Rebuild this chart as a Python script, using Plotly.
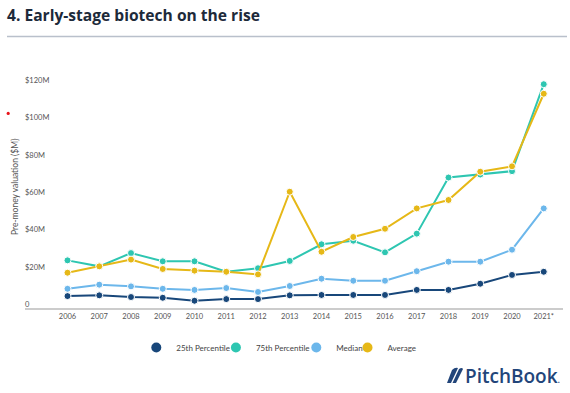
import plotly.graph_objects as go

# ---------------- data ----------------
years = ["2006", "2007", "2008", "2009", "2010", "2011", "2012", "2013",
         "2014", "2015", "2016", "2017", "2018", "2019", "2020", "2021*"]
p25 = [4.5, 4.9, 4.0, 3.6, 2.0, 2.9, 2.9, 4.9, 5.1, 5.1, 5.1, 7.8, 7.8, 11.1, 15.8, 17.5]
p75 = [23.6, 20.4, 27.5, 23.1, 23.1, 17.5, 19.4, 23.3, 32.2, 34.1, 27.9, 37.9, 67.9, 69.5, 71.3, 117.8]
median = [8.4, 10.6, 9.7, 8.4, 7.8, 8.8, 6.7, 9.9, 13.8, 12.7, 12.7, 17.8, 22.9, 22.9, 29.3, 51.4]
average = [17.0, 20.4, 24.0, 19.0, 18.1, 17.5, 16.1, 60.3, 28.2, 36.1, 40.5, 51.4, 55.9, 71.0, 73.9, 112.7]
series_names = ["25th Percentile", "75th Percentile", "Median", "Average"]
y_tick_vals = [0, 20, 40, 60, 80, 100, 120]
y_tick_text = ["0", "$20M", "$40M", "$60M", "$80M", "$100M", "$120M"]

# ---------------- style ----------------
colors = ["#18477a", "#2ec6b1", "#6cb7eb", "#e6b817"]
W, H = 570, 393
ML, MR, MT, MB = 25, 7, 70, 74
PW, PH = W - ML - MR, H - MT - MB
ZERO_PX, PX_PER_M = 304.5, 1.87
Y_MIN = -(H - MB - ZERO_PX) / PX_PER_M
Y_MAX = (ZERO_PX - MT) / PX_PER_M
LEGEND_CIRCLE_X = [160.8, 240.4, 320.8, 372.0]


def px(x):
    return (x - ML) / PW


def py(y):
    return (H - MB - y) / PH


fig = go.Figure()
xs = list(range(len(years)))
for name, vals, col in zip(series_names, [p25, p75, median, average], colors):
    fig.add_trace(go.Scatter(
        x=xs, y=vals, mode="lines+markers", name=name, showlegend=False,
        line=dict(color=col, width=2),
        marker=dict(size=7, color=col, line=dict(color="white", width=1)),
        hoverinfo="skip"))

legend_keys = ["legend", "legend2", "legend3", "legend4"]
legend_layout = {}
for i, (name, col) in enumerate(zip(series_names, colors)):
    fig.add_trace(go.Scatter(
        x=[None], y=[None], mode="markers", name=name, legend=legend_keys[i],
        marker=dict(size=10, color=col)))
    legend_layout[legend_keys[i]] = dict(
        orientation="h", x=px(LEGEND_CIRCLE_X[i] - 4.5 - 20), xanchor="left",
        y=py(347.5), yanchor="middle", bgcolor="rgba(0,0,0,0)",
        font=dict(family="Lato", size=8, color="#444444"),
        itemclick=False, itemdoubleclick=False)

fig.update_layout(
    width=W, height=H,
    margin=dict(l=ML, r=MR, t=MT, b=MB, autoexpand=False),
    paper_bgcolor="white", plot_bgcolor="white",
    font=dict(family="Lato", color="#555555"),
    title=dict(text="4. Early-stage biotech on the rise",
               x=7 / W, xanchor="left", y=1 - 16 / H, yanchor="middle",
               font=dict(family="Open Sans", size=15.6, color="#1d2a3a", weight="bold")),
    xaxis=dict(range=[-1.339, 15.606], tickmode="array", tickvals=xs, ticktext=years,
               anchor="free", position=py(309),
               showgrid=False, zeroline=False, showline=True, linecolor="#cccccc",
               linewidth=1.5, ticks="", tickfont=dict(size=7.5, color="#555555")),
    yaxis=dict(range=[Y_MIN, Y_MAX], tickmode="array", tickvals=y_tick_vals,
               ticktext=y_tick_text, ticklabelposition="inside", ticklabelstandoff=-3,
               showgrid=False, zeroline=False, showline=False, ticks="",
               tickfont=dict(size=7.5, color="#555555")),
    shapes=[
        dict(type="line", xref="paper", yref="paper", x0=px(7), x1=px(567),
             y0=py(36.5), y1=py(36.5), line=dict(color="#b9c0cb", width=1.5)),
        dict(type="circle", xref="paper", yref="paper", x0=px(6.6), x1=px(9.8),
             y0=py(111.8), y1=py(115), fillcolor="#e8141b", line=dict(width=0)),
        # PitchBook feather icon
        dict(type="path", xref="paper", yref="paper",
             path=f"M {px(447)},{py(383)} L {px(452)},{py(370)} Q {px(455)},{py(367)} {px(458)},{py(368)} "
                  f"L {px(451)},{py(383)} Z",
             fillcolor="#22457a", line=dict(width=0)),
        dict(type="path", xref="paper", yref="paper",
             path=f"M {px(452.5)},{py(383)} L {px(459)},{py(369)} Q {px(462)},{py(367)} {px(463)},{py(369)} "
                  f"L {px(456)},{py(383)} Z",
             fillcolor="#22457a", line=dict(width=0)),
    ],
    annotations=[
        dict(text="Pre-money valuation ($M)", xref="paper", yref="paper",
             x=px(15), y=py(187), xanchor="center", yanchor="middle", textangle=-90,
             showarrow=False, font=dict(family="Lato", size=8.5, color="#555555")),
        dict(text="PitchBook<span style='font-size:9px'>.</span>", xref="paper", yref="paper",
             x=px(562), y=py(376), xanchor="right", yanchor="middle", showarrow=False,
             font=dict(family="Open Sans", size=19, color="#22457a", weight=600)),
    ],
    **legend_layout,
)

fig.write_html("out.html", config={"displayModeBar": False},
               post_script="document.body.style.margin='0';document.body.style.padding='0';")
